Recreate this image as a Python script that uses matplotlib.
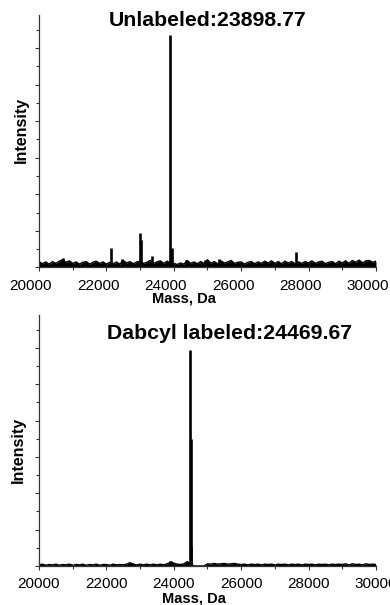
import matplotlib
matplotlib.use('Agg')
import matplotlib.pyplot as plt
from matplotlib.ticker import MultipleLocator
from matplotlib.transforms import ScaledTranslation

plt.rcParams['font.family'] = ['Liberation Sans', 'DejaVu Sans']

# masses sampled for the baseline (Da)
base_mass = list(range(20000, 30001, 100))

# unlabeled spectrum (intensity units: 10 = one major tick)
base_top = [1.6, 1.0, 1.5, 0.9, 1.6, 1.1, 1.7, 2.1, 1.4, 1.8,
            1.1, 1.5, 0.9, 1.4, 1.6, 0.9, 1.4, 1.7, 1.1, 1.5,
            0.9, 1.4, 1.0, 1.5, 0.9, 1.9, 1.2, 1.6, 1.0, 1.5,
            1.7, 1.1, 1.4, 1.9, 1.1, 1.5, 1.8, 1.1, 1.7, 1.2,
            1.1, 0.8, 1.2, 0.9, 1.9, 1.1, 1.5, 1.0, 1.6, 1.1,
            2.1, 1.1, 1.6, 1.0, 1.8, 1.2, 1.5, 1.9, 1.1, 1.4,
            1.5, 0.9, 1.4, 1.6, 1.0, 1.5, 1.1, 1.7, 1.2, 1.8,
            1.1, 1.6, 1.0, 1.7, 1.2, 1.6, 1.0, 1.5, 1.1, 1.6,
            1.2, 1.8, 1.1, 1.5, 1.7, 1.0, 1.4, 1.6, 1.0, 1.7,
            1.2, 1.8, 1.1, 1.9, 1.4, 2.0, 1.2, 1.8, 1.9, 1.4,
            1.7]
peak_mass_top = [20720, 22150, 22470, 22990, 23020, 23350, 23900, 23960, 24350, 24930, 25350, 27620]
peak_int_top = [2.7, 5.2, 2.2, 9.3, 7.4, 3.0, 63.6, 5.2, 1.9, 2.1, 2.3, 4.1]

# dabcyl labeled spectrum
base_bot = [0.3, 0.5, 0.2, 0.4, 0.3, 0.5, 0.2, 0.4, 0.3, 0.5,
            0.2, 0.4, 0.3, 0.5, 0.2, 0.4, 0.3, 0.5, 0.2, 0.4,
            0.4, 0.2, 0.5, 0.3, 0.4, 0.3, 0.5, 0.9, 0.5, 0.3,
            0.5, 0.3, 0.5, 0.3, 0.5, 0.3, 0.5, 0.3, 0.6, 1.0,
            0.8, 0.5, 0.4, 0.6, 1.2, 0.6, 0.0, 0.0, 0.0, 0.0,
            0.6, 0.5, 0.7, 0.5, 0.6, 0.7, 0.5, 0.6, 0.7, 0.5,
            0.4, 0.5, 0.3, 0.5, 0.4, 0.5, 0.3, 0.5, 0.4, 0.5,
            0.3, 0.5, 0.4, 0.5, 0.3, 0.5, 0.4, 0.5, 0.3, 0.5,
            0.4, 0.5, 0.3, 0.5, 0.4, 0.5, 0.3, 0.5, 0.4, 0.5,
            0.4, 0.6, 0.3, 0.6, 0.4, 0.5, 0.3, 0.6, 0.4, 0.5,
            0.4]
peak_mass_bot = [22750, 23880, 23930, 24470, 24500, 24520]
peak_int_bot = [0.9, 1.5, 1.5, 59.3, 34.9, 5.4]

titles = ['Unlabeled:23898.77', 'Dabcyl labeled:24469.67']

fig = plt.figure(figsize=(3.9, 6.05), dpi=100)
ax1 = fig.add_axes([0.1, 0.558, 0.864, 0.417])
ax2 = fig.add_axes([0.1, 0.0645, 0.864, 0.4145])


def panel(ax, base, pm, pi, title, tpos, ylab, xlab):
    ax.fill_between(base_mass, 0, base, color='black', lw=0)
    ax.plot(base_mass, base, color='black', lw=1.0)
    ax.vlines(pm, 0, pi, color='black', lw=1.9)
    ax.set_xlim(20000, 30000)
    ax.set_ylim(0, 69)
    for s in ['top', 'right']:
        ax.spines[s].set_visible(False)
    for s in ['left', 'bottom']:
        ax.spines[s].set_color('#333333')
        ax.spines[s].set_linewidth(0.9)
    ax.xaxis.set_major_locator(MultipleLocator(2000))
    ax.xaxis.set_minor_locator(MultipleLocator(1000))
    ax.yaxis.set_major_locator(MultipleLocator(10))
    ax.yaxis.set_minor_locator(MultipleLocator(5))
    ax.tick_params(axis='x', which='major', length=3, width=0.8, labelsize=11, pad=5, color='#333333')
    ax.tick_params(axis='x', which='minor', length=2, width=0.8, color='#333333')
    ax.tick_params(axis='y', which='major', length=3, width=0.8, labelleft=False, color='#333333')
    ax.tick_params(axis='y', which='minor', length=2, width=0.8, color='#333333')
    ax.text(tpos[0], tpos[1], title, transform=ax.transAxes, ha='center', va='baseline',
            fontsize=15.3, fontweight='bold')
    ax.set_ylabel('Intensity', fontsize=11.5, fontweight='bold')
    ax.yaxis.set_label_coords(ylab[0], ylab[1])
    ax.set_xlabel('Mass, Da', fontsize=10.5, fontweight='bold')
    ax.xaxis.set_label_coords(xlab[0], xlab[1])


panel(ax1, base_top, peak_mass_top, peak_int_top, titles[0], (0.5, 0.956), (-0.03, 0.545), (0.43, -0.097))
panel(ax2, base_bot, peak_mass_bot, peak_int_bot, titles[1], (0.565, 0.904), (-0.04, 0.462), (0.461, -0.1))

# upper panel tick labels sit a little left of their ticks in the original
fig.canvas.draw()
shift = ScaledTranslation(-8 / 100, 0, fig.dpi_scale_trans)
for lbl in ax1.get_xticklabels():
    lbl.set_transform(lbl.get_transform() + shift)

fig.savefig('out.png', dpi=100)
